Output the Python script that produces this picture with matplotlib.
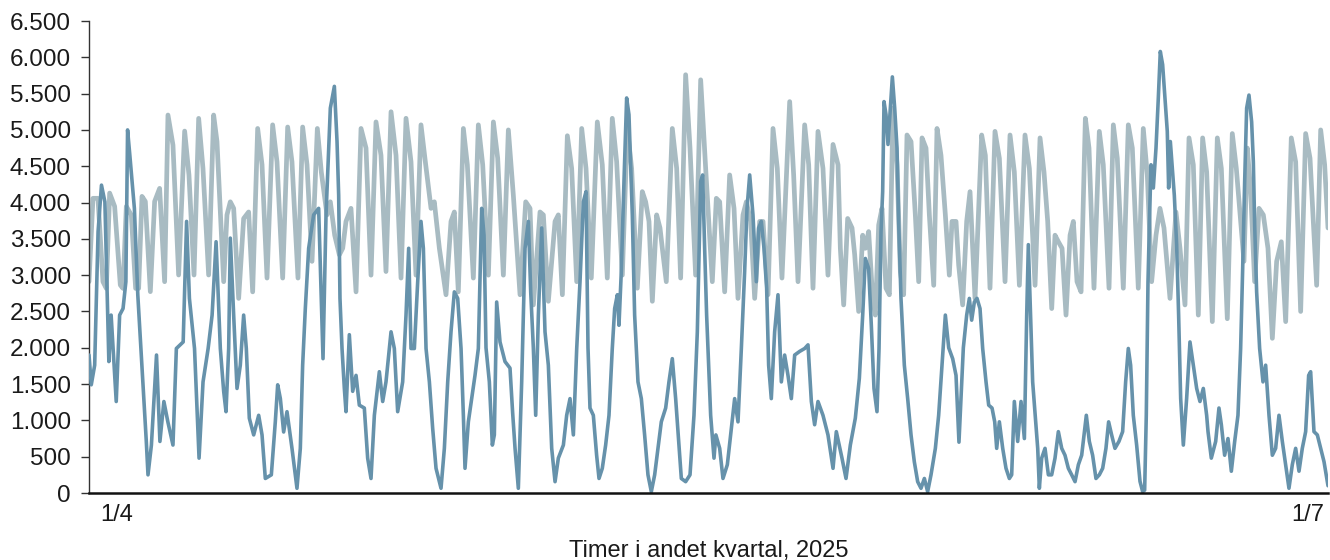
import matplotlib
matplotlib.use("Agg")
import matplotlib.pyplot as plt
from matplotlib.ticker import FuncFormatter, MultipleLocator

# Hours since 1 April 2025 00:00 and values
light_hours = [0, 7, 15.8, 24.6, 30.5, 36.4, 45.2, 55.2, 59.9, 65.8, 74.6, 82.2, 87.5, 93.4, 99.3, 108.1, 115.7, 124.5, 133.3, 139.2, 148, 158, 168.6, 176.2, 185.1, 193.3, 200.9, 210.9, 219.7,
    225.6, 237.4, 243.2, 249.1, 255, 263.8, 272.6, 281.4, 288.5, 297.3, 305, 313.8, 323.7, 331.4, 341.4, 350.2, 357.8, 368.4, 376.6, 384.3, 393.1, 402.5, 409.5, 419.5, 425.4, 433.1,
    441.3, 447.2, 453, 461.8, 470.7, 479.5, 488.3, 497.1, 505.9, 514.7, 523.5, 532.4, 541.2, 550, 558.8, 567.6, 576.4, 585.2, 592.9, 602.9, 608.7, 617.6, 629.3, 638.1, 644, 651, 659.9,
    666.9, 677.5, 686.3, 694, 704, 712.8, 720.4, 730.4, 739.2, 748, 759.8, 769.8, 777.4, 783.3, 795, 800.9, 809.7, 821.5, 827.3, 834.4, 843.2, 850.8, 859.7, 868.5, 876.1,
    885.4, 896, 904.8, 913.6, 922.4, 930.1, 940.1, 948.9, 956.5, 966.5, 975.3, 981.2, 987.1, 993, 1000.6, 1006.5, 1010.6, 1017.6, 1028.2, 1035.9, 1042.9, 1051.7, 1059.4, 1069.3, 1078.2, 1087, 1098.7,
    1105.8, 1111.7, 1120.5, 1129.3, 1137, 1144, 1152.8, 1158.7, 1166.3, 1173.4, 1182.2, 1188.1, 1196.9, 1205.7, 1213.3, 1221.5, 1235.1, 1242.1, 1249.8, 1261.5, 1268.6, 1276.2, 1285, 1293.8, 1302.6, 1311.5, 1320.3,
    1324.4, 1330.3, 1337.3, 1345, 1349.7, 1356.7, 1363.8, 1368.5, 1374.3, 1381.4, 1386.1, 1392, 1397.8, 1404.9, 1410.8, 1417.2, 1424.3, 1430.2, 1436, 1441.9, 1449, 1456.6, 1462.5, 1468.4, 1475.4, 1481.3, 1489, 1494.8, 1501.8, 1509.5, 1516.5, 1521.2, 1528.3,
    1533, 1540, 1547.1, 1553, 1557.7, 1561.8, 1567.7, 1573.5, 1580, 1588.2, 1597, 1604.7, 1614.7, 1623.5, 1631.1, 1640, 1649.9, 1657.6, 1667.6, 1676.4, 1683.4, 1689.9, 1697, 1702.8, 1708.7, 1715.2, 1722.2, 1729.3, 1735.1, 1741.6, 1748.7, 1756.3,
    1762.7, 1771.5, 1780.9, 1787.9, 1798, 1805.6, 1812.6, 1823.2, 1832, 1839.1, 1849.6, 1858.4, 1865.5, 1873.1, 1880.8, 1887.8, 1894.9, 1905.5, 1916, 1923.1, 1931.9, 1939, 1946.6, 1955.4, 1963, 1970.1,
    1980.1, 1988.9, 1996, 2006.5, 2015.3, 2022.4, 2035.9, 2041.8, 2047.7, 2054.7, 2062.4, 2070, 2078.2, 2085.9, 2093.5, 2101.7, 2109.4, 2119.3, 2127, 2135.8, 2144.6, 2152.3, 2164, 2171.1, 2178.1, 2184]
light_values = [2910, 4058, 4058, 2910, 2818, 4130, 3947, 2864, 2818, 3947, 3828, 2818, 2818, 4085, 4015, 2773, 4015, 4195, 2910, 5205, 4792, 3002, 4984, 4379, 3002, 5159, 4471, 3002, 5205,
    4840, 2910, 3830, 4010, 3920, 2680, 3780, 3870, 2770, 5020, 4520, 2960, 5070, 4560, 2960, 5040, 4560, 2960, 5040, 4520, 3190, 5020, 4420, 3830, 4010, 3550,
    3280, 3370, 3740, 3920, 2770, 5020, 4750, 3000, 5110, 4650, 3050, 5250, 4650, 2960, 5160, 4560, 3000, 5070, 4560, 3920, 4010, 3370, 2730, 3740, 3870, 2770, 5020,
    4520, 2960, 5070, 4520, 3000, 5110, 4610, 3000, 5000, 4100, 2730, 4010, 3920, 2590, 3870, 3830, 2640, 3740, 3830, 2730, 4920, 4470, 2910, 5020, 4470,
    2960, 5110, 4520, 2960, 5160, 4560, 3000, 5020, 4470, 2820, 4150, 4010, 3740, 2640, 3830, 3650, 3370, 2910, 5020, 4470, 2960, 5760, 4750, 3000, 5690, 4470, 2910,
    4058, 4010, 2770, 4380, 3920, 2680, 3830, 4010, 3740, 2680, 3740, 3740, 2730, 5020, 4470, 2960, 5390, 4380, 2910, 5070, 4520, 2820, 4980, 4470, 3000, 4800, 4520,
    3370, 2590, 3780, 3650, 3280, 2500, 3550, 3370, 3600, 2680, 2450, 3690, 3920, 2820, 2730, 5300, 4520, 3050, 2730, 4930, 4840, 3830, 2910, 4890, 4750, 3830, 2860, 5020, 4650, 3830, 3000, 3740, 3740,
    3140, 2590, 3740, 4150, 3370, 2680, 3830, 4930, 4650, 2820, 4980, 4610, 2910, 4930, 4420, 2860, 4930, 4470, 2860, 4890, 4420, 3740, 2540, 3550, 3460, 3370, 2450, 3550, 3740, 2910, 2770, 5160,
    4750, 2820, 4980, 4520, 2820, 5070, 4610, 2820, 5070, 4750, 2820, 5020, 4380, 2910, 3550, 3920, 3650, 2680, 3870, 3370, 2590, 4890, 4520, 2450, 4890, 4420,
    2360, 4890, 4470, 2400, 4950, 4470, 3190, 4750, 4150, 2910, 3920, 3830, 3370, 2130, 3190, 3460, 2360, 4890, 4560, 2500, 4950, 4610, 2860, 5000, 4520, 3650]

dark_hours = [0, 4, 10, 16, 22, 28, 32, 35, 39, 48, 54, 60, 65, 68, 72, 80, 86, 95, 101, 104, 110, 119, 125, 132, 139, 148, 154, 166, 172, 177, 186, 194, 201, 210, 217, 224,
    231.5, 237.4, 241.5, 246.2, 249.1, 255, 260.9, 266.7, 272.6, 277.3, 282.6, 290.3, 299.1, 305, 310.8, 321.4, 328.4, 332.6, 337.3, 343.1, 349, 357.8, 366.6, 372.5, 376.6, 381.3, 387.2, 396, 404.8, 412.5, 417.8, 425.4, 432.5, 437.2,
    440.1, 442.4, 446, 450.1, 453, 458.9, 464.8, 470.7, 476.5, 485.3, 491.2, 497.1, 503, 511.8, 517.7, 523.5, 532.4, 538.2, 544.1, 552.9, 558.8, 563.5, 567.6, 573.5, 579.4, 585.2, 589.4, 594.1, 600, 605.8, 611.7, 620.5, 626.4, 632.3, 638.1, 644, 649.9,
    655.8, 659.9, 662.8, 668.7, 674.6, 680.4, 686.3, 692.2, 696.3, 699.8, 705.7, 711, 714.5, 718.6, 724.5, 733.3, 742.1, 746.8, 751, 756.8, 762.7, 768.6, 774.5, 778.6, 783.3, 787.4, 792.1, 798, 803.8, 809.7, 815.6, 821.5, 827.3, 836.2, 842, 847.9, 853.8, 859.7, 865.5, 871.4, 876.1,
    879.6, 883.1, 889, 894.8, 899, 904.8, 910.7, 916.6, 922.4, 926.6, 931.3, 934.2, 938.3, 943, 947.7, 951.8, 957.7, 961.8, 967.7, 973.6, 979.4, 985.3, 991.2, 997.1, 1003, 1008.8, 1016.5, 1022.3, 1028.2, 1034.1, 1038.2, 1044.1, 1051.7, 1059.4, 1066.4, 1072.3, 1078.2, 1081.7, 1085.2, 1088.7, 1095.8, 1101.7,
    1105, 1111.7, 1117.5, 1125.2, 1131.1, 1138.1, 1144, 1149.9, 1155.7, 1159.9, 1164.6, 1170.4, 1176.3, 1180.4, 1185.1, 1189.8, 1194.5, 1198, 1202.7, 1208.6, 1214.5, 1220.4, 1226.2, 1232.1, 1238, 1243.9, 1252.7, 1261.5, 1267.4, 1273.3, 1279.1, 1285, 1293.8, 1302.6, 1311.5, 1317.3,
    1327.3, 1334.4, 1342, 1350.8, 1357.9, 1363.8, 1368.5, 1374.3, 1379, 1383.7, 1389, 1392.6, 1396.1, 1399, 1401.4, 1404.9, 1408.4, 1412.5, 1416.1, 1420.2, 1424.3, 1427.2, 1431.3, 1437.2, 1443.1, 1449, 1454.8, 1460.7, 1466.6, 1472.5, 1478.3, 1484.2, 1491.9, 1497.7, 1503.6, 1509.5, 1515.4, 1522.4, 1528.3,
    1533.5, 1537.1, 1541.2, 1547.1, 1551.8, 1555.9, 1560.6, 1565.3, 1570.6, 1575.3, 1581.2, 1585.9, 1591.8, 1596.5, 1600, 1604.7, 1610.6, 1616.4, 1622.3, 1626.4, 1631.1, 1637, 1642.9, 1648.8, 1652.9, 1655.8, 1658.7, 1663.4, 1668.2, 1672.3, 1675.2, 1679.3, 1685.2, 1691.1, 1696.9, 1702.8, 1708.7, 1714.6, 1720.4, 1726.3, 1732.2, 1738.1, 1744, 1749.8,
    1754, 1758, 1763.3, 1769.1, 1775, 1780.9, 1786.8, 1792.6, 1797.3, 1802.6, 1808.5, 1815.5, 1822, 1827.3, 1832, 1836.1, 1840.8, 1846.7, 1852.6, 1857.3, 1860.8, 1863.7, 1866.7, 1869.6, 1872, 1876.1, 1880.8, 1884.9, 1888.4, 1892.5, 1896.6, 1900.7, 1903.1, 1906.1, 1909.6, 1913.1, 1917.2, 1920.7, 1924.3, 1929, 1934.8, 1940.7, 1946.6, 1952.5, 1958.3, 1964.2, 1970.1,
    1972.5, 1978.3, 1986, 1991.8, 1996, 2001.8, 2007.7, 2013.6, 2019.5, 2025.3, 2030, 2033.6, 2037.1, 2040.6, 2044.7, 2049.4, 2052.4, 2054.7, 2058.2, 2063.5, 2069.4, 2074.1, 2080, 2085.9, 2091.7, 2097.6, 2103.5, 2109.4, 2115.2, 2121.1, 2127, 2132.9, 2138.7, 2144.6, 2149.9, 2153.4, 2159.3, 2165.2, 2171.1, 2177, 2182.8, 2184]
dark_values = [1900, 1490, 1760, 3600, 4240, 4010, 2770, 1810, 2450, 1260, 2450, 2540, 2910, 5000, 4650, 3920, 2730, 1530, 710, 250, 660, 1900, 710, 1260, 980, 660, 1990, 2080, 3740, 2680, 1990, 480, 1530, 1990, 2450, 3460,
    1990, 1400, 1120, 1990, 3510, 2450, 1440, 1760, 2450, 1990, 1030, 800, 1070, 800, 200, 250, 980, 1490, 1300, 840, 1120, 615, 65, 615, 1760, 2540, 3370, 3830, 3920, 1850, 3830, 5300, 5600, 4840,
    4100, 2680, 1990, 1440, 1120, 2180, 1400, 1620, 1210, 1170, 480, 200, 1070, 1670, 1260, 1530, 2220, 1990, 1120, 1530, 2450, 3370, 1990, 1990, 2910, 3740, 3370, 1990, 1530, 890, 340, 65, 615, 1530, 2220, 2770, 2680,
    1990, 1070, 340, 980, 1300, 1620, 1990, 3920, 3550, 2000, 1530, 660, 800, 2630, 2080, 1810, 1720, 1100, 615, 65, 1530, 3370, 3740, 2770, 1990, 1070, 2450, 3650, 2220, 1760, 615, 156, 480, 660, 1070, 1300, 800, 1990, 2910, 4010, 4150,
    2000, 1170, 1070, 520, 200, 340, 660, 1070, 1990, 2540, 2730, 2310, 3050, 4290, 5440, 5210, 3830, 2450, 1530, 1300, 800, 250, 18, 250, 615, 980, 1170, 1530, 1850, 1300, 845, 200, 156, 250, 1070, 2220, 4290, 4380, 3370, 2450, 1070, 480,
    800, 615, 200, 390, 800, 1300, 980, 1990, 3050, 3920, 4380, 3830, 2910, 3650, 3740, 3370, 2820, 1760, 1300, 2220, 2730, 1530, 1900, 1620, 1300, 1900, 1950, 1990, 2040, 1260, 940, 1260, 1070, 800, 340, 845,
    480, 200, 660, 1030, 1580, 2450, 3230, 3090, 2310, 1440, 1120, 1990, 3600, 4150, 5390, 5210, 4800, 5300, 5730, 5300, 4750, 3740, 2680, 1760, 1300, 800, 430, 156, 65, 200, 18, 250, 615, 1070, 1760, 2450, 2000, 1850, 1620,
    700, 1300, 2000, 2450, 2680, 2380, 2630, 2680, 2540, 1990, 1530, 1210, 1170, 980, 615, 980, 615, 340, 200, 250, 1260, 710, 1260, 750, 2450, 3420, 2680, 1530, 1030, 615, 65, 480, 615, 250, 250, 480, 845, 615, 520, 340, 250, 156, 390, 520,
    800, 1070, 710, 520, 200, 250, 340, 615, 980, 800, 615, 710, 845, 1530, 1990, 1760, 1070, 660, 160, 18, 40, 1070, 2910, 3830, 4520, 4200, 4750, 5440, 6080, 5900, 5440, 4980, 4200, 4840, 4470, 4100, 3420, 2450, 1300, 660, 1300, 2080, 1760, 1440, 1260, 1440, 1070,
    845, 480, 710, 1170, 940, 520, 750, 300, 710, 1070, 1990, 3090, 4290, 5300, 5480, 5110, 4560, 3700, 2770, 1990, 1530, 1760, 1070, 520, 615, 1070, 710, 390, 65, 390, 615, 300, 615, 845, 1620, 1670, 845, 800, 615, 430, 156, 100]

x_tick_labels = ["1/4", "1/7"]
x_label = "Timer i andet kvartal, 2025"

LIGHT = "#a8bbc2"
DARK = "#6692ab"
TXT = "#1a1a1a"

plt.rcParams['font.family'] = ['Liberation Sans', 'DejaVu Sans']

fig = plt.figure(figsize=(13.3, 5.6), dpi=100)
ax = fig.add_axes([89/1330, 67/560, 1239/1330, 472/560])

ax.plot(light_hours, light_values, color=LIGHT, lw=3.4, solid_joinstyle='round',
        solid_capstyle='round', zorder=2)
ax.plot(dark_hours, dark_values, color=DARK, lw=2.6, solid_joinstyle='round',
        solid_capstyle='round', zorder=3)

ax.set_xlim(0, 2184)
ax.set_ylim(0, 6500)
ax.yaxis.set_major_locator(MultipleLocator(500))
ax.yaxis.set_major_formatter(FuncFormatter(lambda v, p: f"{v:,.0f}".replace(",", ".")))
ax.tick_params(axis='y', direction='out', length=6, width=1, color='#333333',
               pad=7, labelsize=17.5, labelcolor=TXT)
ax.set_xticks([])

for s in ['top', 'right']:
    ax.spines[s].set_visible(False)
ax.spines['left'].set_color('#333333')
ax.spines['left'].set_linewidth(1.0)
ax.spines['bottom'].set_color('#111111')
ax.spines['bottom'].set_linewidth(1.8)
ax.spines['bottom'].set_zorder(5)

ax.text(0.022, -0.047, x_tick_labels[0], transform=ax.transAxes, ha='center', va='center',
        fontsize=17, color=TXT)
ax.text(0.984, -0.047, x_tick_labels[1], transform=ax.transAxes, ha='center', va='center',
        fontsize=17, color=TXT)
ax.text(0.5, -0.122, x_label, transform=ax.transAxes, ha='center', va='center',
        fontsize=17, color=TXT)

fig.savefig("out.png", dpi=100)
